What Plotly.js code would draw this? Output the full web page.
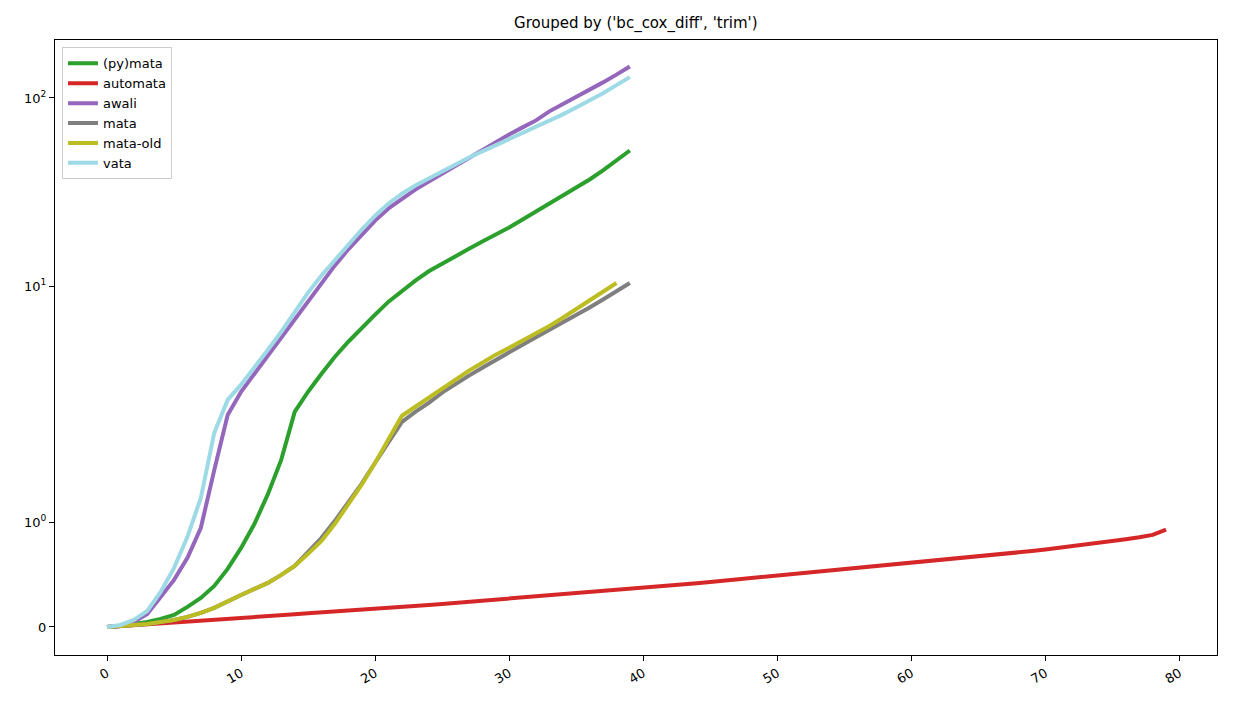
<!DOCTYPE html>
<html><head><meta charset="utf-8">
<script src="https://cdn.plot.ly/plotly-3.0.1.min.js"></script>
<style>body{margin:0}</style></head>
<body><div id="chart" style="width:1237px;height:706px"></div>
<script>
const pymata = [0,0.0096,0.029,0.048,0.077,0.115,0.192,0.278,0.392,0.555,0.756,0.986,1.27,1.60,2.15,2.75,3.43,4.22,5.07,6.02,7.06,8.28,9.48,10.7,12.0,13.2,14.5,15.8,17.3,18.8,20.5,22.6,24.9,27.5,30.3,33.4,36.9,41.2,46.6,52.6];
const automata = [0,0.008,0.016,0.025,0.033,0.041,0.05,0.059,0.067,0.076,
 0.085,0.094,0.103,0.112,0.121,0.13,0.138,0.146,0.154,0.162,
 0.17,0.18,0.19,0.2,0.21,0.22,0.23,0.24,0.25,0.26,
 0.27,0.28,0.29,0.3,0.31,0.32,0.33,0.34,0.35,0.36,
 0.37,0.382,0.394,0.406,0.418,0.43,0.442,0.454,0.466,0.478,
 0.49,0.502,0.514,0.526,0.538,0.55,0.562,0.574,0.586,0.598,
 0.61,0.622,0.634,0.646,0.658,0.67,0.684,0.698,0.712,0.726,
 0.74,0.755,0.77,0.786,0.802,0.82,0.838,0.857,0.88,0.93];
const awali = [0,0.0096,0.048,0.124,0.287,0.45,0.661,0.948,1.50,2.07,2.75,3.43,4.22,5.26,6.64,8.19,10.3,12.9,15.7,18.8,22.3,25.9,29.2,32.6,36.0,39.7,43.8,48.3,53.3,58.8,64,69.8,76,84.9,92.5,101,111,121,133,147];
const mata = [0,0.0096,0.019,0.029,0.048,0.067,0.096,0.134,0.182,0.249,0.306,0.364,0.421,0.498,0.584,0.718,0.852,1.015,1.19,1.37,1.57,1.76,1.96,2.15,2.40,2.72,3.03,3.35,3.69,4.07,4.49,4.89,5.35,5.85,6.4,7.0,7.7,8.5,9.4,10.4];
const mataOld = [0,0.0096,0.019,0.029,0.048,0.067,0.096,0.134,0.182,0.249,0.306,0.364,0.421,0.498,0.584,0.699,0.823,0.986,1.17,1.36,1.57,1.79,2.05,2.29,2.56,2.89,3.22,3.56,3.92,4.33,4.71,5.14,5.6,6.15,6.8,7.55,8.4,9.3,10.4];
const vata = [0,0.019,0.067,0.153,0.335,0.565,0.862,1.235,1.857,2.49,3.0,3.69,4.6,5.73,7.33,9.25,11.4,13.8,16.6,20,23.7,27.5,31,34.3,37.3,40.7,44.3,48.3,52,56,60.2,64.9,70.6,76,81.8,89,97,106,117,129];
const yTickValues = [0,1,10,100];
const yTickLabels = ['0','10<sup>0</sup>','10<sup>1</sup>','10<sup>2</sup>'];
const xTicks = [0,10,20,30,40,50,60,70,80];

// matplotlib symlog (base 10, linthresh 2, linscale 1)
const LT = 2, ADJ = 1/(1-1/10);
function symlog(v){ const a=Math.abs(v); const r = a<=LT ? a*ADJ/LT : ADJ+Math.log10(a/LT); return v<0?-r:r; }

const series = [
 ['(py)mata', pymata, '#2ca02c'],
 ['automata', automata, '#d62728'],
 ['awali', awali, '#9467bd'],
 ['mata', mata, '#7f7f7f'],
 ['mata-old', mataOld, '#bcbd22'],
 ['vata', vata, '#9edae5']
];
const traces = series.map(([name, vals, color]) => ({
 type:'scatter', mode:'lines', name,
 x: vals.map((_, i) => i), y: vals.map(symlog),
 customdata: vals, hovertemplate: '%{customdata}<extra>'+name+'</extra>',
 line:{color, width:4}
}));
const axisCommon = {showline:true, mirror:true, linecolor:'#000', linewidth:1, ticks:'outside', ticklen:5, tickcolor:'#000', showgrid:false, zeroline:false, tickfont:{family:'DejaVu Sans', size:13, color:'#000'}};
Plotly.newPlot('chart', traces, {
 width:1237, height:706,
 margin:{l:55, r:20, t:40, b:51},
 paper_bgcolor:'#fff', plot_bgcolor:'#fff',
 font:{family:'DejaVu Sans', color:'#000'},
 title:{text:"Grouped by ('bc_cox_diff', 'trim')", x:0.514, xanchor:'center', y:0.975, font:{family:'DejaVu Sans', size:15, color:'#000'}},
 xaxis: Object.assign({}, axisCommon, {range:[-3.88, 82.8], tickvals:xTicks, tickangle:-30}),
 yaxis: Object.assign({}, axisCommon, {range:[-0.149, 3.118], tickvals:yTickValues.map(symlog), ticktext:yTickLabels}),
 legend:{x:0.006, y:0.988, xanchor:'left', yanchor:'top', bgcolor:'rgba(255,255,255,0.8)', bordercolor:'#ccc', borderwidth:1, font:{family:'DejaVu Sans', size:13}},
 showlegend:true
}, {displayModeBar:false});
</script></body></html>
